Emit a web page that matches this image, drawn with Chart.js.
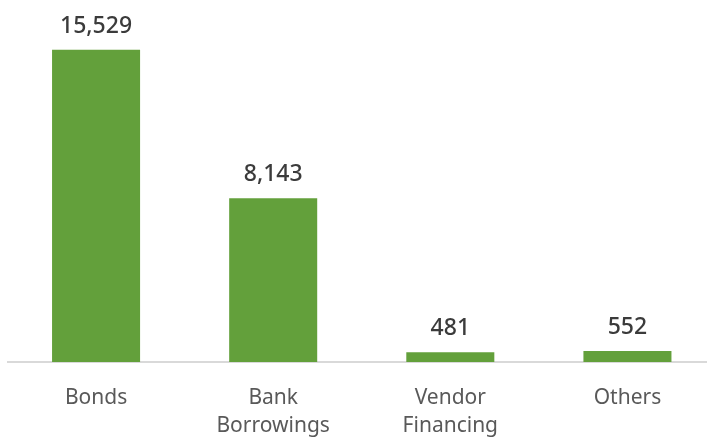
<!DOCTYPE html>
<html>
<head>
<meta charset="utf-8">
<script src="https://cdn.jsdelivr.net/npm/chart.js@4/dist/chart.umd.min.js"></script>
<style>
  html, body { margin: 0; padding: 0; background: #ffffff; overflow: hidden; }
  #wrap { width: 716px; height: 439px; }
</style>
</head>
<body>
<div id="wrap"><canvas id="c" width="716" height="439"></canvas></div>
<script>
// Debt mix by source
const categories = [["Bonds"], ["Bank", "Borrowings"], ["Vendor", "Financing"], ["Others"]];
const amounts = [15529, 8143, 481, 552];

const BAR_GREEN = '#63a03b';
const LABEL_DARK = '#3b3b3b';
const AXIS_GREY = '#595959';

// Writes each bar's amount just above it
const valueLabels = {
  id: 'valueLabels',
  afterDatasetsDraw(chart) {
    const ctx = chart.ctx;
    const meta = chart.getDatasetMeta(0);
    const data = chart.data.datasets[0].data;
    ctx.save();
    ctx.font = '500 23px "Noto Sans"';
    ctx.fillStyle = LABEL_DARK;
    ctx.textAlign = 'center';
    ctx.textBaseline = 'alphabetic';
    meta.data.forEach((bar, i) => {
      ctx.fillText(data[i].toLocaleString('en-US'), bar.x, bar.y - 17);
    });
    ctx.restore();
  }
};

new Chart(document.getElementById('c'), {
  type: 'bar',
  data: {
    labels: categories,
    datasets: [{
      data: amounts,
      backgroundColor: BAR_GREEN,
      borderWidth: 0,
      categoryPercentage: 1.0,
      barPercentage: 0.497
    }]
  },
  options: {
    responsive: false,
    animation: false,
    layout: { padding: { left: 7.5, right: 0, top: 0, bottom: 0 } },
    plugins: { legend: { display: false }, tooltip: { enabled: false } },
    scales: {
      x: {
        grid: { display: false },
        border: { display: true, color: '#d9d9d9', width: 2 },
        ticks: {
          color: AXIS_GREY,
          font: { family: 'Noto Sans', size: 21, lineHeight: 1.33 },
          padding: 14,
          maxRotation: 0
        },
        afterFit(axis) { axis.height = 77; }
      },
      y: {
        display: false,
        min: 0,
        max: 18000
      }
    }
  },
  plugins: [valueLabels]
});
</script>
</body>
</html>
